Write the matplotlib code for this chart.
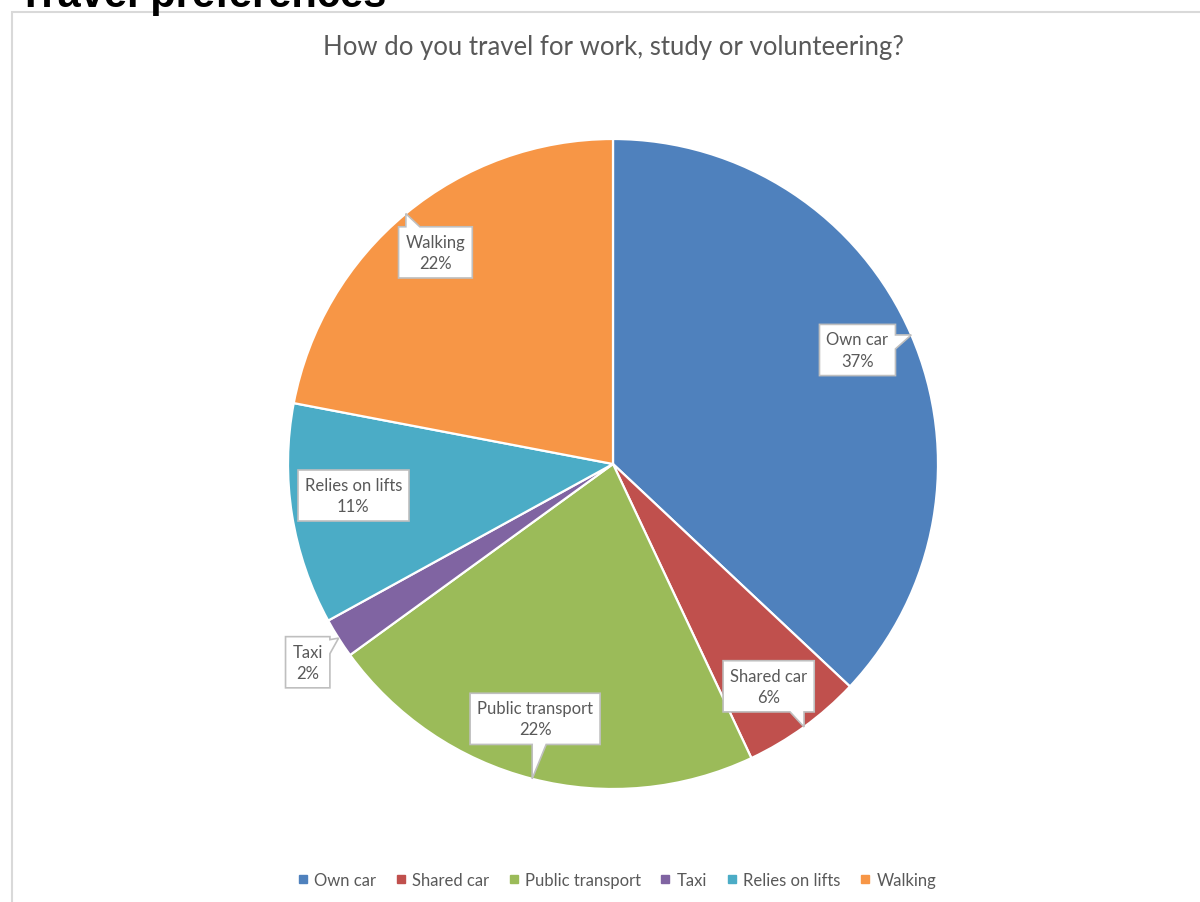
import matplotlib.pyplot as plt
import numpy as np
from matplotlib.patches import Polygon, Rectangle
from matplotlib.lines import Line2D

# Survey answers
modes = ["Own car", "Shared car", "Public transport", "Taxi", "Relies on lifts", "Walking"]
shares = [37, 6, 22, 2, 11, 22]
colors = ["#4F81BD", "#C0504D", "#9BBB59", "#8064A2", "#4BACC6", "#F79646"]

# Callout box centres as (radius, angle in degrees) around the pie centre
label_pos = [(0.83, 25), (0.835, -55), (0.82, -107), (1.12, -147), (0.805, -173), (0.85, 130)]

W, H = 1200, 903
fig = plt.figure(figsize=(W / 100, H / 100), dpi=100)
fig.patch.set_facecolor("white")

FONT = ["Lato", "DejaVu Sans"]
GREY = "#595959"

# Page heading, partly cut off at the top edge
fig.text(18 / W, 1 - 7 / H, "Travel preferences", fontsize=30, fontweight="bold",
         family=["Liberation Sans", "DejaVu Sans"], va="baseline", ha="left", color="black")

# Chart area border
fig.patches.append(Rectangle((12 / W, -0.1), 1.2, (H - 13) / H + 0.1, transform=fig.transFigure,
                             fill=False, edgecolor="#d9d9d9", linewidth=1.5))

fig.text(613 / W, 1 - 48 / H, "How do you travel for work, study or volunteering?",
         fontsize=18.5, color=GREY, family=FONT, ha="center", va="center")

# Pie: centre (613, 465), radius 325 px
R = 325
cx, cy = 613, 465
ax = fig.add_axes([(cx - R) / W, (H - cy - R) / H, 2 * R / W, 2 * R / H])
ax.pie(shares, colors=colors, startangle=90, counterclock=False,
       wedgeprops=dict(edgecolor="white", linewidth=1.6))
ax.set_xlim(-1, 1)
ax.set_ylim(-1, 1)
ax.axis("off")

fig.canvas.draw()
renderer = fig.canvas.get_renderer()


def callout_poly(cx, cy, hw, hh, tx, ty, bw, m, near):
    x0, x1, y0, y1 = cx - hw, cx + hw, cy - hh, cy + hh
    dx, dy = tx - cx, ty - cy
    # no pointer when the tip sits on or right next to the box
    close = abs(dx) <= hw + near and abs(dy) <= hh + near
    side = None
    if not close:
        if abs(dx) / hw > abs(dy) / hh:
            side = "right" if dx > 0 else "left"
        else:
            side = "top" if dy > 0 else "bottom"

    def base(along, c, lo, hi):
        a = min(max(along, lo + m), hi - m)
        b0, b1 = (a - bw, a) if a > c else (a, a + bw)
        if b0 < lo + m:
            b0, b1 = lo + m, lo + m + bw
        if b1 > hi - m:
            b0, b1 = hi - m - bw, hi - m
        return b0, b1

    pts = [(x0, y0)]
    if side == "bottom":
        b0, b1 = base(tx, cx, x0, x1)
        pts += [(b0, y0), (tx, ty), (b1, y0)]
    pts.append((x1, y0))
    if side == "right":
        b0, b1 = base(ty, cy, y0, y1)
        pts += [(x1, b0), (tx, ty), (x1, b1)]
    pts.append((x1, y1))
    if side == "top":
        b0, b1 = base(tx, cx, x0, x1)
        pts += [(b1, y1), (tx, ty), (b0, y1)]
    pts.append((x0, y1))
    if side == "left":
        b0, b1 = base(ty, cy, y0, y1)
        pts += [(x0, b1), (tx, ty), (x0, b0)]
    return pts


px = 1 / R
cum = np.cumsum([0] + shares[:-1])
for i, (name, val) in enumerate(zip(modes, shares)):
    mid = np.deg2rad(90 - (cum[i] + val / 2) / sum(shares) * 360)
    tip = (np.cos(mid), np.sin(mid))
    r, ang = label_pos[i]
    lx, ly = r * np.cos(np.deg2rad(ang)), r * np.sin(np.deg2rad(ang))
    t = ax.text(lx, ly, f"{name}\n{val}%", ha="center", va="center", fontsize=12,
                color=GREY, family=FONT, linespacing=1.4, zorder=5)
    bb = t.get_window_extent(renderer).transformed(ax.transData.inverted())
    hw = bb.width / 2 + 7 * px
    hh = bb.height / 2 + 7 * px
    pts = callout_poly(lx, ly, hw, hh, tip[0], tip[1], 14 * px, 3 * px, 8 * px)
    ax.add_patch(Polygon(pts, closed=True, facecolor="white", edgecolor="#bfbfbf",
                         linewidth=1.2, zorder=4, clip_on=False))

handles = [Line2D([], [], marker="s", linestyle="", color=c, markersize=6) for c in colors]
fig.legend(handles, modes, loc="center", bbox_to_anchor=(617 / W, 1 - 881 / H), ncol=6,
           frameon=False, prop={"family": FONT, "size": 12}, labelcolor=GREY,
           handlelength=0.6, handletextpad=0.4, columnspacing=1.15)

fig.savefig("out.png", dpi=100, facecolor="white")
